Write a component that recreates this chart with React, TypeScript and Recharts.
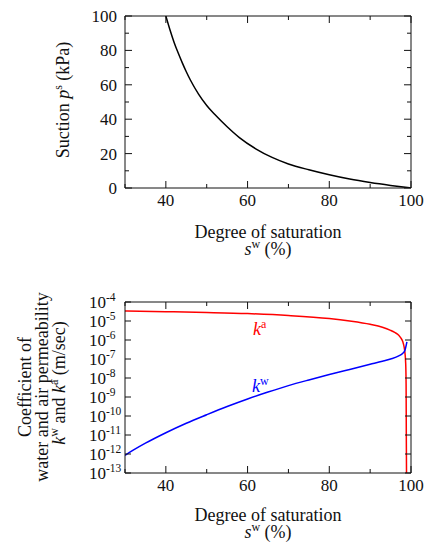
import React from "react";
import { LineChart, Line, XAxis, YAxis } from "recharts";

// suction curve (top panel)
const satSuction = [40, 41, 42, 43, 44, 45, 46, 48, 50, 52, 55, 58, 62, 66, 70, 75, 80, 85, 90, 95, 100];
const suctionKPa = [100, 92, 84.8, 78.6, 72.9, 67.6, 62.8, 54.6, 48, 42.7, 35.6, 29.3, 22.8, 17.8, 14, 10.6, 7.7, 5.2, 3.2, 1.5, 0];

// air permeability k^a (bottom panel)
const satAir = [30, 40, 50, 60, 70, 80, 85, 90, 93, 95, 96, 97, 97.5, 98, 98.3, 98.5, 98.7, 98.8, 98.85, 98.9];
const kAir = [3.4e-5, 3.1e-5, 2.8e-5, 2.45e-5, 1.95e-5, 1.35e-5, 1e-5, 6.7e-6, 4.7e-6, 3.2e-6, 2.5e-6, 1.8e-6, 1.3e-6, 8e-7, 4.5e-7, 2.3e-7, 6e-8, 5e-9, 1e-11, 1e-13];

// water permeability k^w (bottom panel)
const satWater = [30, 32, 35, 40, 45, 50, 55, 60, 65, 70, 75, 80, 85, 90, 93, 95, 97, 98, 98.5, 99];
const kWater = [8.5e-13, 1.58e-12, 3.7e-12, 1.32e-11, 4.17e-11, 1.17e-10, 3.16e-10, 7.9e-10, 1.82e-9, 3.98e-9, 7.9e-9, 1.51e-8, 2.82e-8, 5.25e-8, 7.6e-8, 1e-7, 1.45e-7, 2e-7, 2.8e-7, 7.9e-7];

const satTicks = [30, 40, 50, 60, 70, 80, 90, 100];
const satMajor = [40, 60, 80, 100];
const suctionTicks = [0, 10, 20, 30, 40, 50, 60, 70, 80, 90, 100];
const suctionMajor = [0, 20, 40, 60, 80, 100];
const permTicks = [1e-13, 1e-12, 1e-11, 1e-10, 1e-9, 1e-8, 1e-7, 1e-6, 1e-5, 1e-4];

const suctionData = satSuction.map((s, i) => ({ s, p: suctionKPa[i] }));
const airData = satAir.map((s, i) => ({ s, k: kAir[i] }));
const waterData = satWater.map((s, i) => ({ s, k: kWater[i] }));

const FONT = "'Liberation Serif', 'Times New Roman', serif";
const INK = "#111";

const BottomTick = (props: any) => {
  const { x, y, payload } = props;
  const major = satMajor.includes(payload.value);
  return (
    <g>
      <line x1={x} x2={x} y1={y} y2={y - (major ? 7 : 4)} stroke={INK} />
      {major && (
        <text x={x} y={y + 18} textAnchor="middle" fontSize={17} fontFamily={FONT} fill={INK}>
          {payload.value}
        </text>
      )}
    </g>
  );
};

const TopTick = (props: any) => {
  const { x, y, payload } = props;
  const major = satMajor.includes(payload.value);
  return <line x1={x} x2={x} y1={y} y2={y + (major ? 7 : 4)} stroke={INK} />;
};

const SuctionLeftTick = (props: any) => {
  const { x, y, payload } = props;
  const major = suctionMajor.includes(payload.value);
  return (
    <g>
      <line x1={x} x2={x + (major ? 7 : 4)} y1={y} y2={y} stroke={INK} />
      {major && (
        <text x={x - 8} y={y + 6} textAnchor="end" fontSize={17} fontFamily={FONT} fill={INK}>
          {payload.value}
        </text>
      )}
    </g>
  );
};

const SuctionRightTick = (props: any) => {
  const { x, y, payload } = props;
  const major = suctionMajor.includes(payload.value);
  return <line x1={x} x2={x - (major ? 7 : 4)} y1={y} y2={y} stroke={INK} />;
};

const PermLeftTick = (props: any) => {
  const { x, y, payload } = props;
  const exp = Math.round(Math.log10(payload.value));
  return (
    <g>
      <line x1={x} x2={x + 6} y1={y} y2={y} stroke={INK} />
      <text x={x - 36} y={y + 6} textAnchor="start" fontSize={17} fontFamily={FONT} fill={INK}>
        10
        <tspan dy={-7} fontSize={11.5}>
          {String(exp)}
        </tspan>
      </text>
    </g>
  );
};

const PermRightTick = (props: any) => {
  const { x, y } = props;
  return <line x1={x} x2={x - 6} y1={y} y2={y} stroke={INK} />;
};

const SatTitle = ({ y }: { y: number }) => (
  <g fontFamily={FONT} fontSize={18} fill={INK}>
    <text x={268} y={y} textAnchor="middle">
      Degree of saturation
    </text>
    <text x={268} y={y + 17} textAnchor="middle">
      <tspan fontStyle="italic">s</tspan>
      <tspan dy={-7} fontSize={12}>w</tspan>
      <tspan dy={7}> (%)</tspan>
    </text>
  </g>
);

const axisCommon = {
  interval: 0 as const,
  tickSize: 0,
  tickMargin: 0,
  tickLine: false,
  axisLine: { stroke: INK, strokeWidth: 1 },
  allowDataOverflow: true,
};

export default function App() {
  return (
    <div style={{ position: "absolute", left: 0, top: 0, width: 427, height: 542, background: "#fff" }}>
      <LineChart width={427} height={270} margin={{ top: 15, right: 15, bottom: 81, left: 124 }}>
        <XAxis xAxisId="b" type="number" dataKey="s" domain={[30, 100]} ticks={satTicks} height={1}
          tick={BottomTick} {...axisCommon} />
        <XAxis xAxisId="t" orientation="top" type="number" dataKey="s" domain={[30, 100]} ticks={satTicks}
          height={1} tick={TopTick} {...axisCommon} />
        <YAxis yAxisId="l" type="number" domain={[0, 100]} ticks={suctionTicks} width={1}
          tick={SuctionLeftTick} {...axisCommon} />
        <YAxis yAxisId="r" orientation="right" type="number" domain={[0, 100]} ticks={suctionTicks}
          width={1} tick={SuctionRightTick} {...axisCommon} />
        <Line xAxisId="b" yAxisId="l" data={suctionData} dataKey="p" type="monotone" dot={false}
          stroke="#000" strokeWidth={1.5} isAnimationActive={false} />
        <SatTitle y={237.5} />
        <text transform="translate(63,100) rotate(-90)" y={6} textAnchor="middle" fontFamily={FONT}
          fontSize={18} fill={INK}>
          Suction <tspan fontStyle="italic">p</tspan>
          <tspan dy={-7} fontSize={12}>s</tspan>
          <tspan dy={7}> (kPa)</tspan>
        </text>
      </LineChart>

      <div style={{ position: "absolute", left: 0, top: 270 }}>
        <LineChart width={427} height={272} margin={{ top: 31, right: 15, bottom: 68, left: 124 }}>
          <XAxis xAxisId="b" type="number" dataKey="s" domain={[30, 100]} ticks={satTicks} height={1}
            tick={BottomTick} {...axisCommon} />
          <XAxis xAxisId="t" orientation="top" type="number" dataKey="s" domain={[30, 100]} ticks={satTicks}
            height={1} tick={TopTick} {...axisCommon} />
          <YAxis yAxisId="l" type="number" scale="log" domain={[1e-13, 1e-4]} ticks={permTicks} width={1}
            tick={PermLeftTick} {...axisCommon} />
          <YAxis yAxisId="r" orientation="right" type="number" scale="log" domain={[1e-13, 1e-4]}
            ticks={permTicks} width={1} tick={PermRightTick} {...axisCommon} />
          <Line xAxisId="b" yAxisId="l" data={airData} dataKey="k" type="monotone" dot={false}
            stroke="#ff0000" strokeWidth={1.5} isAnimationActive={false} />
          <Line xAxisId="b" yAxisId="l" data={waterData} dataKey="k" type="monotone" dot={false}
            stroke="#0000ff" strokeWidth={1.5} isAnimationActive={false} />
          <text x={253} y={65} fontFamily={FONT} fontSize={18} fill="#ff0000">
            <tspan fontStyle="italic">k</tspan>
            <tspan dy={-7} fontSize={12}>a</tspan>
          </text>
          <text x={252} y={122} fontFamily={FONT} fontSize={18} fill="#0000ff">
            <tspan fontStyle="italic">k</tspan>
            <tspan dy={-7} fontSize={12}>w</tspan>
          </text>
          <SatTitle y={251} />
          <g fontFamily={FONT} fontSize={18} fill={INK}>
            <text transform="translate(0,117) rotate(-90)" x={0} y={31} textAnchor="middle">
              Coefficient of
            </text>
            <text transform="translate(0,117) rotate(-90)" x={0} y={48} textAnchor="middle">
              water and air permeability
            </text>
            <text transform="translate(0,113) rotate(-90)" x={0} y={65} textAnchor="middle">
              <tspan fontStyle="italic">k</tspan>
              <tspan dy={-7} fontSize={12}>w</tspan>
              <tspan dy={7}> and </tspan>
              <tspan fontStyle="italic">k</tspan>
              <tspan dy={-7} fontSize={12}>a</tspan>
              <tspan dy={7}> (m/sec)</tspan>
            </text>
          </g>
        </LineChart>
      </div>
    </div>
  );
}
